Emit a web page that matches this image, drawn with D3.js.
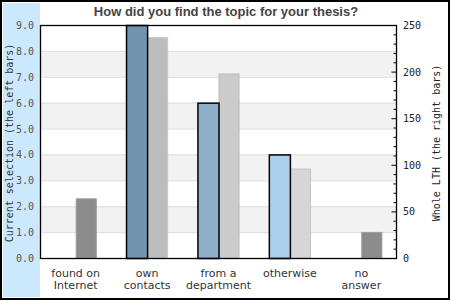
<!DOCTYPE html>
<html><head><meta charset="utf-8">
<script src="https://cdn.jsdelivr.net/npm/d3@7/dist/d3.min.js"></script>
<style>html,body{margin:0;padding:0;background:#fff;}svg{display:block;}</style>
</head><body>
<script>
const categories = [["found on","Internet"],["own","contacts"],["from a","department"],["otherwise"],["no","answer"]];
const currentValues = [0, 9, 6, 4, 0];
const lthValues = [64, 237, 198, 96, 28];
const leftTicks = [0,1,2,3,4,5,6,7,8,9];
const rightMajorTicks = [0,50,100,150,200,250];
const currentColors = ["#7394ae","#7394ae","#8fb0cb","#accfeb","#7394ae"];
const lthColors = ["#8c8c8c","#bdbdbd","#cbcbcb","#d6d6d6","#8c8c8c"];
const lthStroke = ["#9a9a9a","#c8c8c8","#bcbcbc","#c4c4c4","#9a9a9a"];

const W=450,H=300, L=40, R=397, T=25, B=258;
const svg=d3.select("body").append("svg").attr("width",W).attr("height",H);
svg.append("rect").attr("x",1).attr("y",1).attr("width",W-2).attr("height",H-2).attr("fill","#fff").attr("stroke","#000").attr("stroke-width",2);
svg.append("rect").attr("x",3).attr("y",3).attr("width",L-3).attr("height",H-6).attr("fill","#cce8fd");

const keys = categories.map(c=>c.join(" "));
const x = d3.scaleBand().domain(keys).range([L,R]).paddingInner(0.41).paddingOuter(0.205);
const xs = d3.scaleBand().domain(["cur","lth"]).range([0,x.bandwidth()]);
const yL = d3.scaleLinear().domain([0,9]).range([B,T]);
const yR = d3.scaleLinear().domain([0,250]).range([B,T]);

// bands
const g = svg.append("g");
leftTicks.slice(0,-1).forEach((t,i)=>{
  if(t%2===1) g.append("rect").attr("x",L).attr("width",R-L).attr("y",yL(t+1)).attr("height",yL(t)-yL(t+1)).attr("fill","#f2f2f2");
});
leftTicks.slice(1,-1).forEach(t=>{
  g.append("line").attr("x1",L).attr("x2",R).attr("y1",yL(t)+0.5).attr("y2",yL(t)+0.5).attr("stroke","#dcdcdc");
});

// bars
keys.forEach((k,i)=>{
  const h2 = B - yR(lthValues[i]);
  if(lthValues[i]>0) svg.append("rect").attr("x",x(k)+xs("lth")+0.5).attr("y",yR(lthValues[i])+0.5)
    .attr("width",xs.bandwidth()-1).attr("height",h2-0.5).attr("fill",lthColors[i]).attr("stroke",lthStroke[i]);
  if(currentValues[i]>0) svg.append("rect").attr("x",x(k)+xs("cur")+0.5).attr("y",yL(currentValues[i])+0.5)
    .attr("width",xs.bandwidth()).attr("height",B-yL(currentValues[i])).attr("fill",currentColors[i]).attr("stroke","#000").attr("stroke-width",1.5);
});

// frame
svg.append("rect").attr("x",L+0.5).attr("y",T+0.5).attr("width",R-L-1).attr("height",B-T).attr("fill","none").attr("stroke","#000").attr("stroke-width",1.3);

// left labels
leftTicks.forEach(t=>{
  svg.append("text").attr("x",34).attr("y",yL(t)+4).attr("text-anchor","end")
    .attr("font-family","DejaVu Sans Mono").attr("font-size",10).attr("fill","#555").text(t.toFixed(1));
});
// right axis
const ra = d3.axisRight(yR).tickValues(d3.range(0,251,10)).tickSize(0).tickFormat("");
const rg = svg.append("g").attr("transform",`translate(${R-0.5},0)`).call(ra);
rg.select(".domain").remove();
rg.selectAll(".tick line").attr("x1",d=>d%50===0?-5:-3).attr("x2",0).attr("stroke","#000");
rightMajorTicks.forEach(t=>{
  svg.append("text").attr("x",403).attr("y",yR(t)+4).attr("font-family","DejaVu Sans Mono").attr("font-size",10).attr("fill","#222").text(t);
});

// category labels
keys.forEach((k,i)=>{
  const cx = x(k)+x.bandwidth()/2;
  const t = svg.append("text").attr("text-anchor","middle").attr("font-family","DejaVu Sans").attr("font-size",11).attr("fill","#333");
  categories[i].forEach((line,j)=>t.append("tspan").attr("x",cx).attr("y",277+12*j).text(line));
});

// titles
svg.append("text").attr("x",226).attr("y",16).attr("text-anchor","middle").attr("font-family","Liberation Sans, Arial").attr("font-weight","bold").attr("font-size",13).attr("fill","#444").text("How did you find the topic for your thesis?");
svg.append("text").attr("transform","translate(13,143) rotate(-90)").attr("text-anchor","middle").attr("font-family","DejaVu Sans Mono").attr("font-size",10).attr("fill","#333").text("Current selection (the left bars)");
svg.append("text").attr("transform","translate(440,143) rotate(-90)").attr("text-anchor","middle").attr("font-family","DejaVu Sans Mono").attr("font-size",10).attr("fill","#222").text("Whole LTH (the right bars)");
</script>
</body></html>
